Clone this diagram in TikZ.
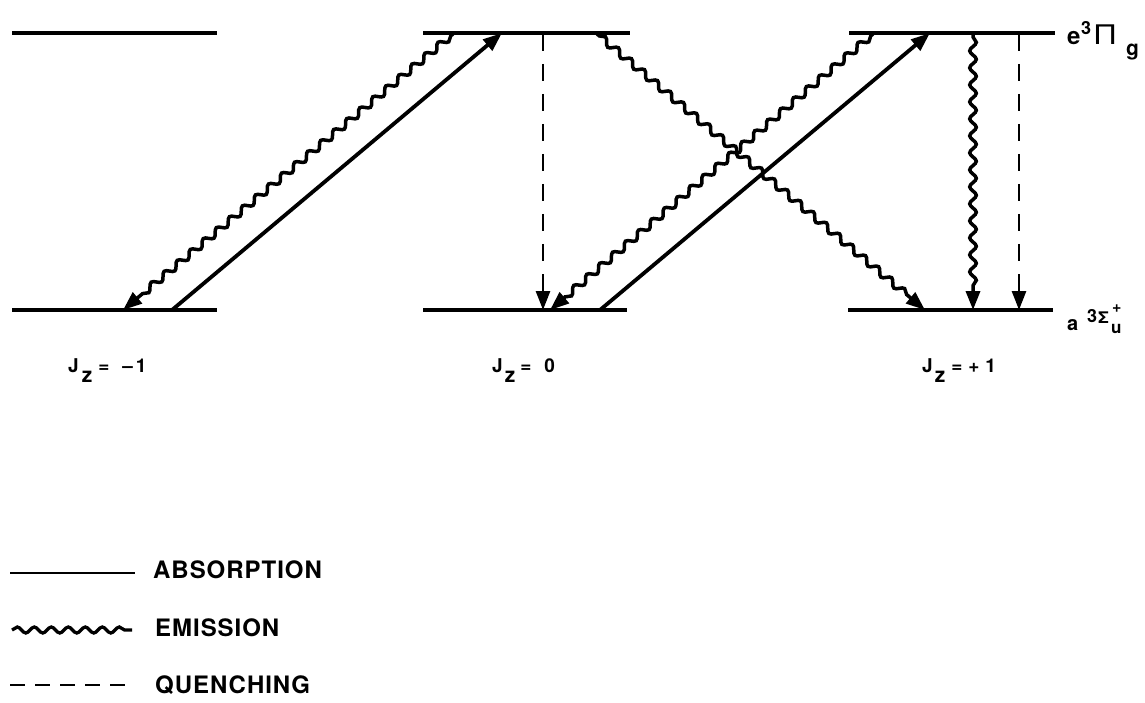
\documentclass[tikz,border=0pt]{standalone}
\usepackage{fontspec}
\setmainfont{TeX Gyre Heros}
\usetikzlibrary{arrows.meta,decorations.pathmorphing}
\newcommand{\zf}{\fontsize{21}{21}\selectfont}
\newcommand{\jf}{\fontsize{19}{19}\selectfont\bfseries}
\begin{document}
\begin{tikzpicture}[x=1pt,y=-1pt,
  lev/.style={line width=3.3pt},
  tipstyle/.style={-{Triangle[length=19pt,width=14pt]}},
  absorb/.style={line width=3.8pt, tipstyle},
  emis/.style={line width=3.5pt, tipstyle, decorate,
    decoration={snake,segment length=17pt,amplitude=3.3pt,pre length=3pt,post length=19pt}},
  quench/.style={line width=2.8pt, dash pattern=on 17pt off 13pt, tipstyle},
  lbl/.style={inner sep=0pt, anchor=base west},
  legtxt/.style={inner sep=0pt, anchor=base west, font=\fontsize{24}{24}\selectfont\bfseries\addfontfeatures{LetterSpace=4}}]
\useasboundingbox (0,0) rectangle (1145,703);
% levels
\coordinate (t1a) at (12,33);  \coordinate (t1b) at (217,33);
\coordinate (t2a) at (423,33); \coordinate (t2b) at (630,33);
\coordinate (t3a) at (849,33); \coordinate (t3b) at (1055,33);
\coordinate (b1a) at (12,310);  \coordinate (b1b) at (217,310);
\coordinate (b2a) at (423,310); \coordinate (b2b) at (627,310);
\coordinate (b3a) at (848,310); \coordinate (b3b) at (1053,310);
\draw[lev] (t1a) -- (t1b);
\draw[lev] (t2a) -- (t2b);
\draw[lev] (t3a) -- (t3b);
\draw[lev] (b1a) -- (b1b);
\draw[lev] (b2a) -- (b2b);
\draw[lev] (b3a) -- (b3b);
% transition end points
\coordinate (a1s) at (172,310); \coordinate (a1e) at (502,33);
\coordinate (a2s) at (600,310); \coordinate (a2e) at (930,33);
\coordinate (e1s) at (453,34);  \coordinate (e1e) at (123,310);
\coordinate (e2s) at (597,34);  \coordinate (e2e) at (925,310);
\coordinate (e3s) at (873,34);  \coordinate (e3e) at (550,310);
\coordinate (e4s) at (973,34);  \coordinate (e4e) at (973,310);
\coordinate (q1s) at (543,34);  \coordinate (q1e) at (543,310);
\coordinate (q2s) at (1019,34); \coordinate (q2e) at (1019,310);
\draw[absorb] (a1s) -- (a1e);
\draw[absorb] (a2s) -- (a2e);
\draw[emis] (e1s) -- (e1e);
\draw[emis] (e2s) -- (e2e);
\draw[emis] (e3s) -- (e3e);
\draw[emis] (e4s) -- (e4e);
\draw[quench] (q1s) -- (q1e);
\draw[quench] (q2s) -- (q2e);
% state labels
\node[lbl, font=\fontsize{24}{24}\selectfont\bfseries] (le) at (1067,45) {e};
\node[lbl, font=\fontsize{18}{18}\selectfont\bfseries] (l3a) at (1081,35) {3};
\node[lbl, font=\fontsize{27}{27}\selectfont] (lpi) at (1095,45) {\scalebox{1.2}[1]{Π}};
\node[lbl, font=\fontsize{21}{21}\selectfont\bfseries] (lg) at (1126,56) {g};
\node[lbl, font=\fontsize{20}{20}\selectfont\bfseries] (la) at (1067,330) {a};
\node[lbl, font=\fontsize{18}{18}\selectfont\bfseries] (l3b) at (1087,322) {3};
\node[lbl, font=\fontsize{16}{16}\selectfont\bfseries] (lsig) at (1098,323) {\scalebox{1.1}[1]{Σ}};
\node[lbl, font=\fontsize{16}{16}\selectfont\bfseries] (lplus) at (1112,312) {+};
\node[lbl, font=\fontsize{17}{17}\selectfont\bfseries] (lu) at (1111,333) {u};
% J_z labels
\node[lbl, font=\jf] (j1) at (68,372) {J\hspace{3pt}\raisebox{-10pt}{\zf z}\hspace{6pt}=\hspace{13pt}–\hspace{3pt}1};
\node[lbl, font=\jf] (j2) at (492,372) {J\hspace{2pt}\raisebox{-10pt}{\zf z}\hspace{5pt}=\hspace{13pt}0};
\node[lbl, font=\jf] (j3) at (922,372) {J\hspace{2pt}\raisebox{-10pt}{\zf z}\hspace{6pt}=\hspace{6pt}+\hspace{6pt}1};
% legend
\coordinate (g1a) at (10,573); \coordinate (g1b) at (135,573);
\coordinate (g2a) at (12,630); \coordinate (g2b) at (132,630);
\coordinate (g3a) at (10,685); \coordinate (g3b) at (132,685);
\draw[line width=2.8pt] (g1a) -- (g1b);
\draw[line width=3.3pt, decorate, decoration={snake,segment length=17pt,amplitude=3pt}] (g2a) -- (g2b);
\draw[line width=2.6pt, dash pattern=on 15pt off 10pt] (g3a) -- (g3b);
\node[legtxt] (tabs) at (153,578) {ABSORPTION};
\node[legtxt] (temi) at (155,636) {EMISSION};
\node[legtxt] (tque) at (155,693) {QUENCHING};
\end{tikzpicture}
\end{document}
